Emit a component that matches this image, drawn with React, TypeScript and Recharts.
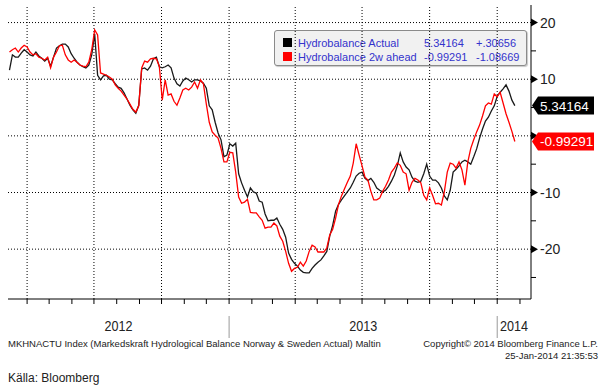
import React from "react";
import { LineChart, Line, XAxis, YAxis, ReferenceLine } from "recharts";

// Hydrobalance, TWh, sampled every 4 days from 8 Mar 2012 to 25 Jan 2014
const FIRST_DATE = "2012-03-08";
const STEP_DAYS = 4;

const actual = [
  11.6, 14.3, 13.9, 13.9, 14.6, 15.2, 14.8, 14.3, 14.1, 14.8,
  14.1, 13.7, 13.2, 13.7, 12.3, 13.9, 15.5, 15.9, 16.2, 16.2,
  15.7, 14.5, 13.7, 13.0, 12.5, 12.2, 12.0, 12.5, 14.3, 18.0,
  10.7, 9.9, 10.6, 10.7, 10.0, 9.9, 9.2, 8.6, 8.4, 7.6,
  6.5, 5.4, 4.6, 4.0, 5.4, 11.8, 12.0, 11.6, 12.3, 13.6,
  13.9, 12.2, 12.0, 12.2, 12.5, 12.0, 10.2, 9.2, 8.8, 9.7,
  10.2, 9.9, 9.5, 9.9, 9.9, 9.7, 9.3, 8.4, 5.3, 4.6,
  2.4, 0.5, -0.7, -3.7, -3.4, -1.4, -1.8, -1.3, -6.7, -8.3,
  -9.6, -10.8, -9.2, -9.9, -10.1, -11.5, -11.7, -13.8, -15.0, -14.9,
  -14.9, -14.5, -15.6, -16.5, -17.9, -20.7, -21.8, -22.5, -23.0, -23.7,
  -24.1, -24.2, -24.2, -23.4, -22.8, -22.3, -21.9, -21.2, -20.4, -17.7,
  -15.8, -13.3, -12.1, -11.3, -10.6, -9.9, -9.2, -8.2, -7.1, -6.6,
  -6.4, -7.5, -7.9, -7.5, -8.2, -9.2, -9.6, -9.9, -9.6, -8.9,
  -8.0, -6.9, -5.3, -3.0, -4.6, -5.5, -6.0, -7.3, -8.0, -8.2,
  -8.0, -6.7, -5.0, -7.1, -7.8, -7.8, -8.3, -9.2, -10.6, -11.3,
  -9.6, -6.4, -5.9, -5.3, -4.6, -4.3, -4.6, -5.0, -3.7, -2.3,
  -0.4, 1.2, 2.6, 3.3, 4.4, 5.3, 7.0, 7.7, 8.3, 9.0,
  7.9, 6.3, 5.34164,
];

const ahead2w = [
  14.8, 15.2, 15.5, 14.8, 15.5, 16.0, 15.7, 14.8, 14.3, 14.5,
  13.9, 13.7, 13.4, 13.9, 12.0, 13.9, 14.8, 15.9, 16.0, 14.3,
  13.4, 13.0, 13.4, 13.0, 12.5, 12.3, 12.2, 13.0, 15.2, 18.7,
  17.8, 11.1, 10.9, 10.7, 10.4, 10.0, 9.0, 8.4, 7.9, 7.2,
  6.5, 5.6, 4.7, 4.2, 5.3, 12.0, 13.2, 13.0, 13.6, 13.7,
  13.6, 12.3, 6.3, 9.9, 7.2, 7.4, 6.1, 5.4, 6.7, 8.1,
  8.4, 8.1, 8.6, 9.5, 8.4, 9.9, 9.2, 5.6, 2.4, 0.7,
  0.1, -0.4, -2.2, -4.6, -4.6, -2.9, -3.0, -6.4, -10.8, -11.9,
  -11.7, -11.2, -13.5, -13.6, -13.6, -14.3, -14.9, -16.3, -16.1, -16.1,
  -15.4, -15.9, -17.7, -18.6, -20.4, -22.5, -23.9, -23.4, -23.2, -22.3,
  -23.0, -22.1, -20.4, -19.3, -19.6, -20.5, -20.5, -20.5, -19.8, -17.5,
  -16.5, -14.5, -12.1, -10.6, -9.4, -8.2, -7.1, -4.8, -1.4, -3.4,
  -5.3, -7.3, -7.8, -9.8, -11.3, -11.3, -11.0, -9.8, -8.9, -7.8,
  -6.4, -5.7, -4.8, -5.2, -6.4, -6.7, -9.6, -8.2, -7.5, -7.8,
  -8.3, -10.5, -11.3, -9.2, -10.5, -12.0, -11.9, -12.2, -9.9, -6.4,
  -4.8, -5.0, -5.7, -4.6, -6.0, -8.7, -4.6, -2.2, -0.7, 0.7,
  1.9, 3.5, 5.3, 5.8, 5.6, 7.4, 6.9, 7.7, 5.8, 3.9,
  2.4, 0.8, -0.99291,
];

const legendRows = [
  { name: "Hydrobalance Actual", color: "#000000", last: "5.34164", change: "+.30656" },
  { name: "Hydrobalance 2w ahead", color: "#ff0000", last: "-0.99291", change: "-1.08669" },
];

const monthTicks = [
  "2012-04-01", "2012-05-01", "2012-06-01", "2012-07-01", "2012-08-01", "2012-09-01",
  "2012-10-01", "2012-11-01", "2012-12-01", "2013-01-01", "2013-02-01", "2013-03-01",
  "2013-04-01", "2013-05-01", "2013-06-01", "2013-07-01", "2013-08-01", "2013-09-01",
  "2013-10-01", "2013-11-01", "2013-12-01", "2014-01-01", "2014-02-01",
];
const quarterLines = [
  "2012-04-01", "2012-07-01", "2012-10-01", "2013-01-01",
  "2013-04-01", "2013-07-01", "2013-10-01", "2014-01-01",
];
const yearBreaks = ["2013-01-01", "2014-01-01"];
const yearLabels = ["2012", "2013", "2014"];
const X_RANGE = ["2012-03-06", "2014-02-16"];

const yMajor = [-20, -10, 0, 10, 20];
const yMinor = [-25, -15, -5, 5, 15];
const Y_DOMAIN = [-28.8, 23.1];

const FONT = "'Liberation Sans', Arial, sans-serif";

const dayOf = (iso: string) => Math.round((Date.parse(iso) - Date.parse("2012-01-01")) / 86400000);

const firstDay = dayOf(FIRST_DATE);
const data = actual.map((a, i) => ({ day: firstDay + i * STEP_DAYS, actual: a, ahead: ahead2w[i] }));

const xDomain = X_RANGE.map(dayOf);
const breakDays = yearBreaks.map(dayOf);
const spanEdges = [xDomain[0], ...breakDays, xDomain[1]];
const yearMids = yearLabels.map((_, i) => (spanEdges[i] + spanEdges[i + 1]) / 2);

const badges = [
  { value: actual[actual.length - 1], fill: "#000000", text: legendRows[0].last },
  { value: ahead2w[ahead2w.length - 1], fill: "#ff0000", text: legendRows[1].last },
];

const ValueTick = (props: any) => {
  const { x, y, payload } = props;
  const v = payload.value;
  const badge = badges.find((b) => b.value === v);
  if (badge) {
    return (
      <g>
        <path d={`M${x + 1},${y} L${x + 7},${y - 9} L${x + 63},${y - 9} L${x + 63},${y + 9} L${x + 7},${y + 9} Z`} fill={badge.fill} />
        <text x={x + 9} y={y + 5} fill="#fff" fontSize={13.5} fontFamily={FONT}>{badge.text}</text>
      </g>
    );
  }
  if (yMajor.includes(v)) {
    // a label sitting under a value badge is hidden by it
    const covered = badges.some((b) => Math.abs(b.value - v) < 2.5);
    return (
      <g>
        <path d={`M${x},${y - 4} L${x + 7},${y} L${x},${y + 4} Z`} fill="#000" />
        {!covered && <text x={x + 9} y={y + 5} fill="#222" fontSize={14} fontFamily={FONT}>{v}</text>}
      </g>
    );
  }
  return <line x1={x} y1={y} x2={x + 5} y2={y} stroke="#000" />;
};

const MonthTick = (props: any) => {
  const { x, y } = props;
  return <line x1={x} y1={y} x2={x} y2={y + 5} stroke="#000" />;
};

const YearTick = (props: any) => {
  const { x, y, payload } = props;
  const v = payload.value;
  if (breakDays.includes(v)) {
    return <line x1={x} y1={y + 9} x2={x} y2={y + 31} stroke="#999" />;
  }
  const idx = yearMids.indexOf(v);
  return (
    <text x={x} y={y + 24} textAnchor="middle" fill="#222" fontSize={15} fontFamily={FONT} textLength={28} lengthAdjust="spacingAndGlyphs">
      {yearLabels[idx]}
    </text>
  );
};

export default function App() {
  return (
    <div style={{ position: "absolute", left: 0, top: 0, width: 611, height: 390, background: "#fff", fontFamily: FONT }}>
      {/* legend sits under the grid, as in the source */}
      <div
        style={{
          position: "absolute", left: 274, top: 30, width: 251, height: 34,
          background: "#f1f1f1", border: "1px solid #8a8a8a", borderRadius: 3,
          boxShadow: "1px 1px 1px #c8c8c8",
        }}
      >
        {legendRows.map((r, i) => (
          <div key={r.name} style={{ position: "absolute", left: 0, top: 5 + i * 14, height: 14, width: 250, fontSize: 11, lineHeight: "14px", color: "#3333cc" }}>
            <span style={{ position: "absolute", left: 8, top: 2, width: 9, height: 9, background: r.color }} />
            <span style={{ position: "absolute", left: 23 }}>{r.name}</span>
            <span style={{ position: "absolute", left: 149 }}>{r.last}</span>
            <span style={{ position: "absolute", left: 201 }}>{r.change}</span>
          </div>
        ))}
      </div>

      <div style={{ position: "absolute", left: 0, top: 0 }}>
        <LineChart width={611} height={390} data={data} margin={{ top: 5, right: 0, bottom: 43, left: 8 }}>
          <XAxis
            dataKey="day" type="number" domain={xDomain} allowDataOverflow
            ticks={monthTicks.map(dayOf)} interval={0}
            tickSize={0} tickMargin={0} tickLine={false} tick={<MonthTick />}
            axisLine={{ stroke: "#000" }} height={8}
          />
          <XAxis
            xAxisId="years" dataKey="day" type="number" domain={xDomain} allowDataOverflow
            ticks={[...breakDays, ...yearMids]} interval={0}
            tickSize={0} tickMargin={0} tickLine={false} tick={<YearTick />}
            axisLine={false} height={40}
          />
          <YAxis
            yAxisId="v" orientation="right" type="number" domain={Y_DOMAIN} allowDataOverflow
            ticks={[...yMinor, ...yMajor, ...badges.map((b) => b.value)]} interval={0}
            tickSize={0} tickMargin={0} tickLine={false} tick={<ValueTick />}
            axisLine={{ stroke: "#000" }} width={80}
          />
          {yMajor.map((v) => (
            <ReferenceLine key={`h${v}`} yAxisId="v" y={v} stroke="#000" strokeDasharray="1 2" />
          ))}
          {quarterLines.map((d) => (
            <ReferenceLine key={`q${d}`} yAxisId="v" x={dayOf(d)} stroke="#000" strokeDasharray="1 2" />
          ))}
          <Line yAxisId="v" type="linear" dataKey="actual" stroke="#1a1a1a" strokeWidth={1.3} dot={false} isAnimationActive={false} />
          <Line yAxisId="v" type="linear" dataKey="ahead" stroke="#ff0000" strokeWidth={1.3} dot={false} isAnimationActive={false} />
        </LineChart>
      </div>

      <div style={{ position: "absolute", left: 8, top: 338, fontSize: 9.5, color: "#222", whiteSpace: "nowrap" }}>
        MKHNACTU Index (Markedskraft Hydrological Balance Norway &amp; Sweden Actual) Maltin
      </div>
      <div style={{ position: "absolute", right: 13, top: 338, fontSize: 9.5, color: "#222", textAlign: "right", lineHeight: "12px", whiteSpace: "nowrap" }}>
        Copyright© 2014 Bloomberg Finance L.P.
        <br />
        25-Jan-2014 21:35:53
      </div>
      <div style={{ position: "absolute", left: 8, top: 371, fontSize: 12, color: "#222" }}>Källa: Bloomberg</div>
    </div>
  );
}
